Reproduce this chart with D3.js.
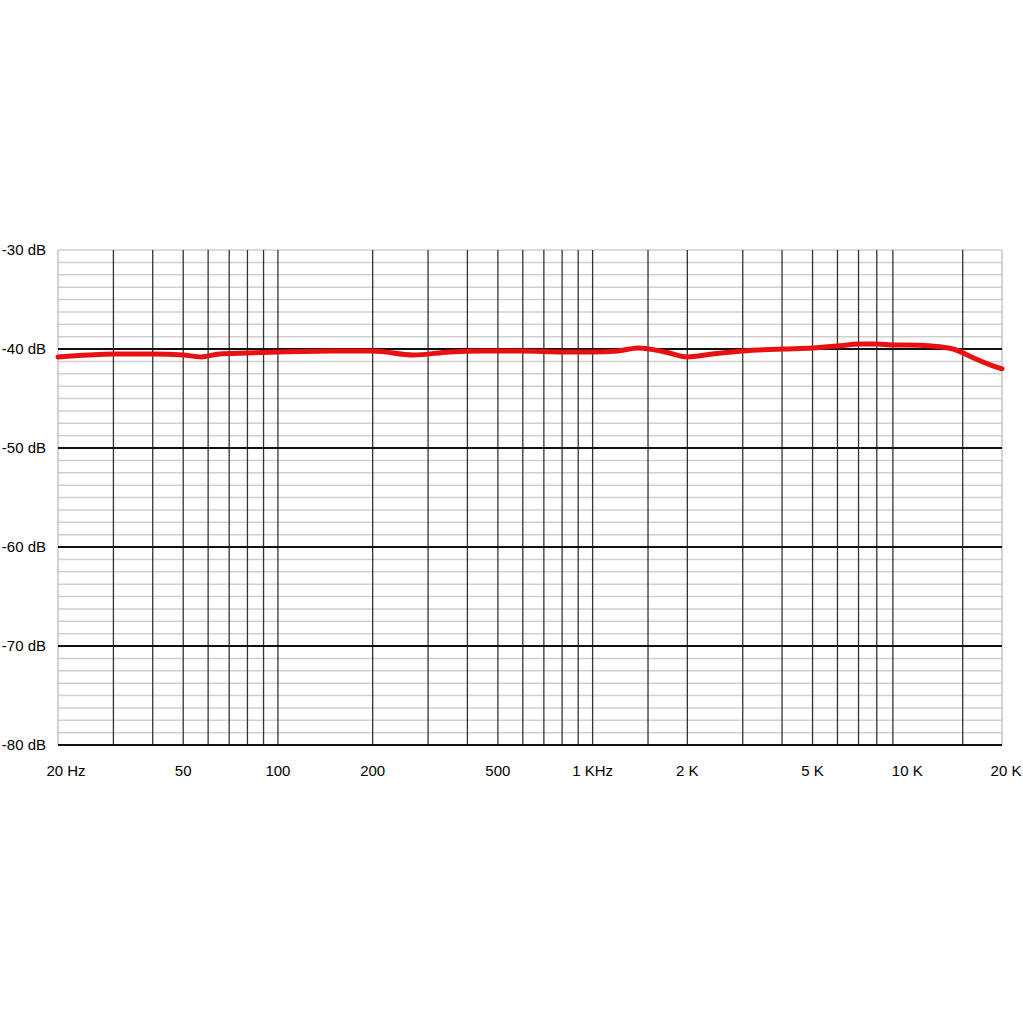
<!DOCTYPE html>
<html><head><meta charset="utf-8">
<script src="https://cdn.jsdelivr.net/npm/d3@7"></script>
<style>body{margin:0;background:#fff}text{font-family:"Liberation Sans",Arial,sans-serif}</style>
</head><body><div id="chart"></div>
<script>
const freqs = [20, 25, 30, 40, 50, 57, 65, 80, 100, 150, 200, 270, 350, 450, 600, 800, 1000, 1200, 1400, 1700, 2000, 2400, 3000, 4000, 5000, 6000, 7000, 8000, 9000, 10000, 12000, 14000, 16000, 18000, 20000];
const levels = [-40.8, -40.6, -40.5, -40.5, -40.6, -40.8, -40.5, -40.4, -40.3, -40.2, -40.2, -40.6, -40.3, -40.2, -40.2, -40.3, -40.3, -40.2, -39.9, -40.3, -40.8, -40.5, -40.2, -40.0, -39.9, -39.7, -39.5, -39.5, -39.6, -39.6, -39.7, -40.0, -40.8, -41.5, -42.0];
const freqTicks = [20, 50, 100, 200, 500, 1000, 2000, 5000, 10000, 20000];
const freqLabels = ["20 Hz", "50", "100", "200", "500", "1 KHz", "2 K", "5 K", "10 K", "20 K"];
const dbTicks = [-30, -40, -50, -60, -70, -80];

const svg = d3.select("#chart").append("svg").attr("width", 1023).attr("height", 1024);
const x = d3.scaleLog().domain([20, 20000]).range([58, 1002]);
const y = d3.scaleLinear().domain([-80, -30]).range([745, 250]);

// minor horizontal lines every 1.25 dB
const minor = d3.range(-80, -29.9, 1.25);
svg.selectAll(".hmin").data(minor).join("line")
  .attr("x1", 58).attr("x2", 1002).attr("y1", d => y(d)).attr("y2", d => y(d))
  .attr("stroke", "#cfcfcf").attr("stroke-width", 1.5);

// vertical grid
const vlines = [];
[10, 100, 1000].forEach(dec => { for (let k = 1; k <= 9; k++) { const f = dec * k; if (f > 20 && f <= 10000) vlines.push(f); } });
vlines.push(1500, 15000);
svg.selectAll(".v").data(vlines).join("line")
  .attr("x1", d => x(d)).attr("x2", d => x(d)).attr("y1", 250).attr("y2", 745)
  .attr("stroke", "#333").attr("stroke-width", 1.3);
svg.selectAll(".ve").data([20, 20000]).join("line")
  .attr("x1", d => x(d)).attr("x2", d => x(d)).attr("y1", 250).attr("y2", 745)
  .attr("stroke", "#bbb").attr("stroke-width", 1.3);

// major horizontal lines
svg.selectAll(".hmaj").data([-40, -50, -60, -70, -80]).join("line")
  .attr("x1", 58).attr("x2", 1002).attr("y1", d => y(d)).attr("y2", d => y(d))
  .attr("stroke", "#111").attr("stroke-width", 1.8);

svg.selectAll(".yl").data(dbTicks).join("text")
  .attr("x", 46).attr("y", d => y(d) + 5).attr("text-anchor", "end")
  .attr("font-size", 15).text(d => d + " dB");

svg.selectAll(".xl").data(freqTicks).join("text")
  .attr("x", (d, i) => x(d) + (i === 0 ? 8 : i === freqTicks.length - 1 ? 4 : 0))
  .attr("y", 776).attr("text-anchor", "middle")
  .attr("font-size", 15).text((d, i) => freqLabels[i]);

const line = d3.line().x(d => x(d[0])).y(d => y(d[1])).curve(d3.curveMonotoneX);
svg.append("path").datum(freqs.map((f, i) => [f, levels[i]]))
  .attr("d", line).attr("fill", "none").attr("stroke", "#e81010")
  .attr("stroke-width", 5).attr("stroke-linecap", "round");
</script></body></html>
